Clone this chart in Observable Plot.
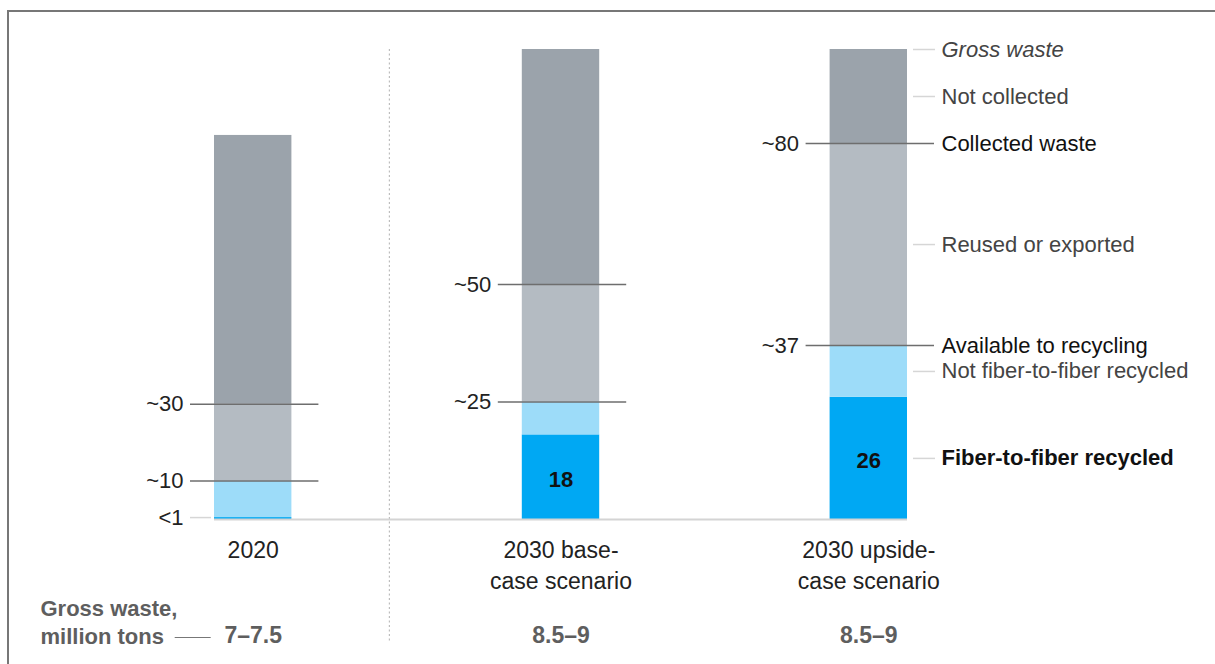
<!DOCTYPE html>
<html>
<head>
<meta charset="utf-8">
<script src="https://cdn.jsdelivr.net/npm/d3@7"></script>
<script src="https://cdn.jsdelivr.net/npm/@observablehq/plot@0.6"></script>
<style>
  html, body { margin: 0; padding: 0; background: #fff; overflow: hidden; }
  #chart { position: relative; width: 1215px; height: 664px; }
  #chart svg { position: absolute; left: 0; top: 0; }
  .frame {
    position: absolute; left: 7px; top: 10px; right: -20px; bottom: -20px;
    border-left: 2.5px solid #777; border-top: 2.5px solid #777;
    pointer-events: none;
  }
</style>
</head>
<body>
<div id="chart"><div class="frame"></div></div>
<script>
// Textile waste in Europe: gross waste (million tons) split by destination, shares in %
const scenarios = ["2020", "2030 base-case scenario", "2030 upside-case scenario"];
const scenarioLines = ["2020", "2030 base-\ncase scenario", "2030 upside-\ncase scenario"];
const grossWaste = [7.15, 8.75, 8.75];            // million tons
const grossWasteLabels = ["7–7.5", "8.5–9", "8.5–9"];
const collectedShare = [30, 50, 80];             // % of gross waste collected
const collectedLabels = ["~30", "~50", "~80"];
const recyclingShare = [10, 25, 37];             // % available to recycling
const recyclingLabels = ["~10", "~25", "~37"];
const fiberShare = [0.5, 18, 26];                // % fiber-to-fiber recycled
const fiberLabels = ["<1", "18", "26"];
const segments = ["Fiber-to-fiber recycled", "Not fiber-to-fiber recycled", "Reused or exported", "Not collected"];
const captionText = "Gross waste,\nmillion tons";

const segmentColors = ["#00a8f3", "#9ddcf9", "#b4bbc2", "#9ba3ab"];
const barWidth = 77.4;
const left = 214, right = 907;
const span = right - left;
const paddingInner = (span - scenarios.length * barWidth) / (span - barWidth);
const font = "'Liberation Sans', Arial, Helvetica, sans-serif";

// stacked segments in million tons
const rows = scenarios.flatMap((s, i) => {
  const g = grossWaste[i];
  const parts = [
    fiberShare[i],
    recyclingShare[i] - fiberShare[i],
    collectedShare[i] - recyclingShare[i],
    100 - collectedShare[i]
  ];
  return segments.map((seg, j) => ({scenario: s, segment: seg, value: parts[j] / 100 * g}));
});

// threshold lines with their share labels
const markers = scenarios.flatMap((s, i) => [
  {scenario: s, y: collectedShare[i] / 100 * grossWaste[i], label: collectedLabels[i]},
  {scenario: s, y: recyclingShare[i] / 100 * grossWaste[i], label: recyclingLabels[i]}
]);

// fiber-to-fiber share: inside the bar when there is room, otherwise beside it
const fiberRows = scenarios.map((s, i) => ({
  scenario: s,
  top: fiberShare[i] / 100 * grossWaste[i],
  label: fiberLabels[i],
  inside: fiberShare[i] >= 5
}));

// segment key, placed against the last bar
const u = scenarios.length - 1;
const gu = grossWaste[u];
const pu = (p) => p / 100 * gu;
const keyRows = [
  {label: "Gross waste", y: gu, style: "italic"},
  {label: segments[3], y: pu((collectedShare[u] + 100) / 2), style: "plain"},
  {label: "Collected waste", y: pu(collectedShare[u]), style: "strong"},
  {label: segments[2], y: pu((recyclingShare[u] + collectedShare[u]) / 2), style: "plain"},
  {label: "Available to recycling", y: pu(recyclingShare[u]), style: "strong"},
  {label: segments[1], y: pu((fiberShare[u] + recyclingShare[u]) / 2), style: "plain"},
  {label: segments[0], y: pu(fiberShare[u] / 2), style: "bold"}
];
const keyX = () => scenarios[u];
const keyText = {x: keyX, y: "y", text: "label", textAnchor: "start", dx: barWidth / 2 + 34, fontSize: 22};

const plot = Plot.plot({
  width: 1215,
  height: 664,
  marginLeft: left,
  marginRight: 1215 - right,
  marginTop: 49,
  marginBottom: 145,
  style: {fontFamily: font, background: "transparent", overflow: "visible"},
  x: {type: "band", domain: scenarios, paddingInner, paddingOuter: 0, round: false, axis: null},
  y: {domain: [0, 8.75], axis: null},
  color: {domain: segments, range: segmentColors},
  marks: [
    // separator between actual and projected years
    Plot.ruleX([scenarios[1]], {dx: -171.6, insetBottom: -124, stroke: "#bdbdbd", strokeWidth: 1.2, strokeDasharray: "2,2.5"}),
    Plot.barY(rows, {x: "scenario", y: "value", fill: "segment"}),
    Plot.ruleY([0], {stroke: "#d4d4d4", strokeWidth: 2}),

    // share thresholds
    Plot.tickY(markers, {x: "scenario", y: "y", stroke: "#6e6e6e", strokeWidth: 1.5, insetLeft: -24, insetRight: -27}),
    Plot.text(markers, {x: "scenario", y: "y", text: "label", textAnchor: "end", dx: -(barWidth / 2 + 31), fontSize: 22, fill: "#222"}),
    Plot.tickY(fiberRows.filter(d => !d.inside), {x: "scenario", y: "top", stroke: "#d6d6d6", strokeWidth: 1.5, insetLeft: -24, insetRight: barWidth + 3}),
    Plot.text(fiberRows.filter(d => !d.inside), {x: "scenario", y: "top", text: "label", textAnchor: "end", dx: -(barWidth / 2 + 31), fontSize: 22, fill: "#222"}),
    Plot.text(fiberRows.filter(d => d.inside), {x: "scenario", y: d => d.top / 2, text: "label", dy: 3, fontSize: 22, fontWeight: "bold", fill: "#111"}),

    // segment key
    Plot.tickY(keyRows.filter(d => d.style !== "strong"), {x: keyX, y: "y", stroke: "#d6d6d6", strokeWidth: 1.5, insetLeft: barWidth + 6, insetRight: -28}),
    Plot.text(keyRows.filter(d => d.style === "italic"), {...keyText, fill: "#444", fontStyle: "italic"}),
    Plot.text(keyRows.filter(d => d.style === "plain"), {...keyText, fill: "#444"}),
    Plot.text(keyRows.filter(d => d.style === "strong"), {...keyText, fill: "#111", fontWeight: 500}),
    Plot.text(keyRows.filter(d => d.style === "bold"), {...keyText, fill: "#111", fontWeight: "bold"}),

    // category labels and gross waste totals
    Plot.text(scenarios, {x: d => d, frameAnchor: "bottom", text: (d, i) => scenarioLines[i], lineAnchor: "top", dy: 16, lineHeight: 1.35, fontSize: 23, fill: "#222"}),
    Plot.text(scenarios, {x: d => d, frameAnchor: "bottom", text: (d, i) => grossWasteLabels[i], lineAnchor: "top", dy: 107, fontSize: 23, fontWeight: "bold", fill: "#5e5e5e"}),
    Plot.text([captionText], {frameAnchor: "bottom-left", text: d => d, textAnchor: "start", lineAnchor: "top", dx: 40 - left, dy: 76, lineHeight: 1.3, fontSize: 22, fontWeight: "bold", fill: "#5e5e5e"}),
    Plot.tickY([{scenario: scenarios[0], y: 0}], {x: "scenario", y: "y", dy: 118, insetLeft: -39.3, insetRight: 80.7, stroke: "#777", strokeWidth: 1})
  ]
});

document.getElementById("chart").prepend(plot);
</script>
</body>
</html>
